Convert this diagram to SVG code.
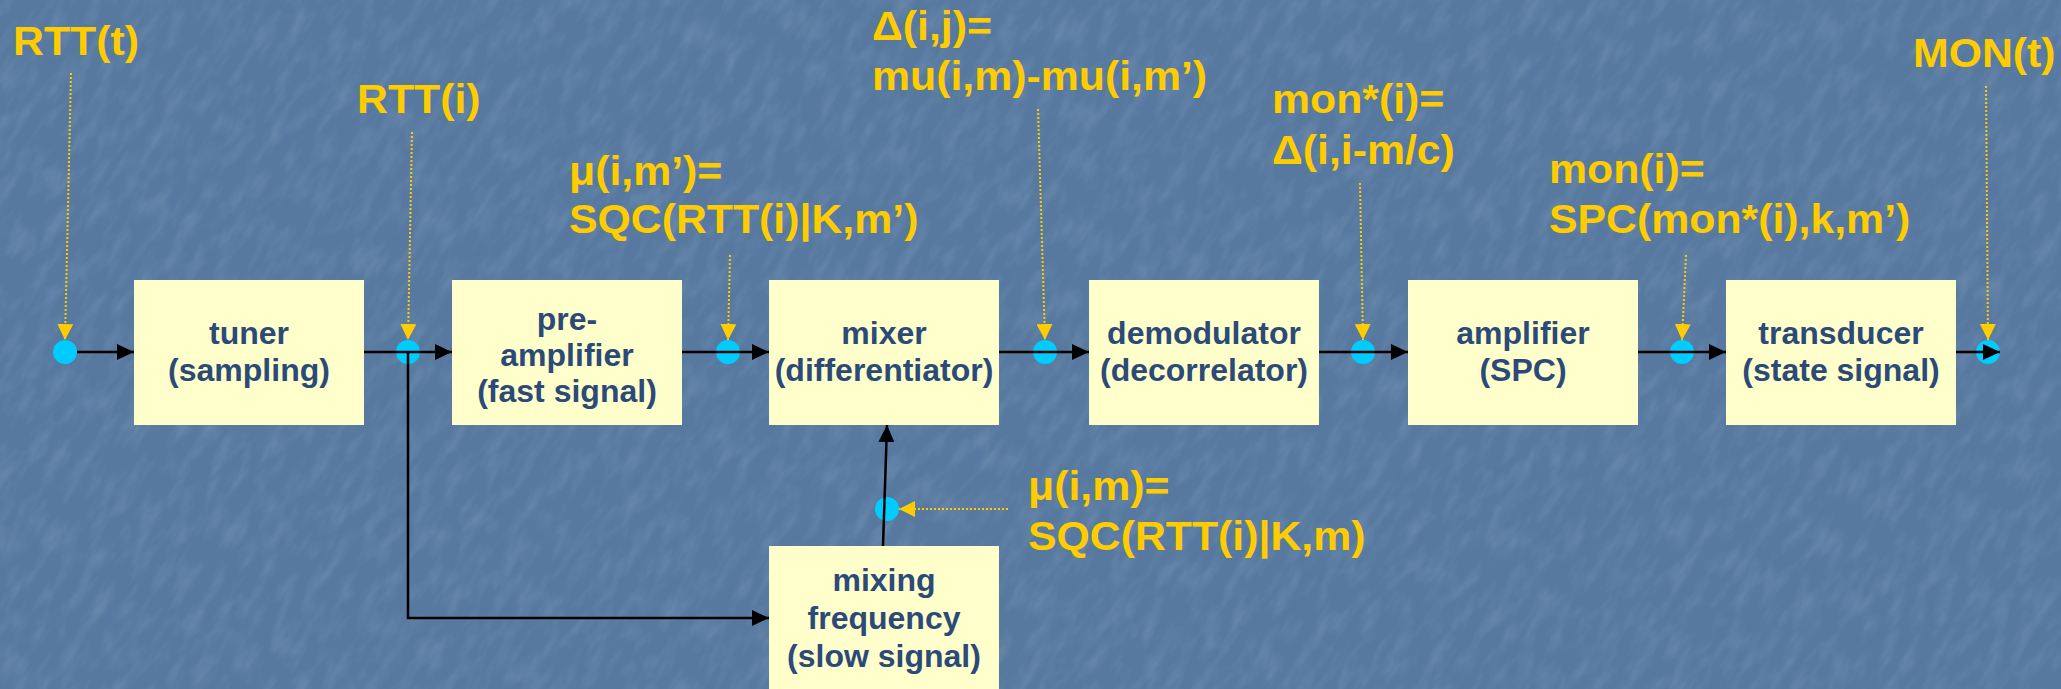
<svg xmlns="http://www.w3.org/2000/svg" width="2061" height="689" viewBox="0 0 2061 689">
<style>
.box{fill:#FFFFCC;}
.bt{font-family:"Liberation Sans",Arial,sans-serif;font-weight:bold;font-size:32px;fill:#2C4A78;text-anchor:middle;}
.lab{font-family:"Liberation Sans",Arial,sans-serif;font-weight:bold;font-size:40px;fill:#FFCC00;}
.wire{stroke:#000;stroke-width:2.5;fill:none;}
.arr{marker-end:url(#ah);}
.dot{stroke:#FFCC00;stroke-width:2;stroke-dasharray:2 2;fill:none;marker-end:url(#yh);}
.jn{fill:#00CCFF;}
</style>
<defs>
<marker id="ah" markerUnits="userSpaceOnUse" markerWidth="18" markerHeight="16" refX="17" refY="8" orient="auto">
<path d="M0,0 L17,8 L0,16 Z" fill="#000"/>
</marker>
<marker id="yh" markerUnits="userSpaceOnUse" markerWidth="17" markerHeight="16" refX="16" refY="8" orient="auto">
<path d="M0,0 L16,8 L0,16 Z" fill="#FFCC00"/>
</marker>
<filter id="tex" x="0" y="0" width="100%" height="100%">
<feTurbulence type="fractalNoise" baseFrequency="0.03 0.08" numOctaves="3" seed="7" result="n"/>
<feColorMatrix in="n" type="matrix" values="0 0 0 0 0.58  0 0 0 0 0.70  0 0 0 0 0.86  0 0 0 1.1 -0.45"/>
</filter>
</defs>
<rect width="2061" height="689" fill="#57799F"/>
<g transform="rotate(-58 1030 344)" opacity="0.25">
<rect x="-600" y="-900" width="3300" height="2500" filter="url(#tex)"/>
</g>

<g id="junctions">
<circle class="jn" cx="65" cy="352" r="12"/>
<circle class="jn" cx="408" cy="352" r="12"/>
<circle class="jn" cx="728" cy="352" r="12"/>
<circle class="jn" cx="1045" cy="352" r="12"/>
<circle class="jn" cx="1363" cy="352" r="12"/>
<circle class="jn" cx="1682" cy="352" r="12"/>
<circle class="jn" cx="1988" cy="352" r="12"/>
<circle class="jn" cx="887" cy="509" r="12"/>
</g>

<g id="node-tuner">
<rect class="box" x="134" y="280" width="230" height="145"/>
<text class="bt" x="249" y="344">tuner</text>
<text class="bt" x="249" y="381">(sampling)</text>
</g>
<g id="node-preamplifier">
<rect class="box" x="452" y="280" width="230" height="145"/>
<text class="bt" x="567" y="330">pre-</text>
<text class="bt" x="567" y="366">amplifier</text>
<text class="bt" x="567" y="402">(fast signal)</text>
</g>
<g id="node-mixer">
<rect class="box" x="769" y="280" width="230" height="145"/>
<text class="bt" x="884" y="344">mixer</text>
<text class="bt" x="884" y="381">(differentiator)</text>
</g>
<g id="node-demodulator">
<rect class="box" x="1089" y="280" width="230" height="145"/>
<text class="bt" x="1204" y="344">demodulator</text>
<text class="bt" x="1204" y="381">(decorrelator)</text>
</g>
<g id="node-amplifier">
<rect class="box" x="1408" y="280" width="230" height="145"/>
<text class="bt" x="1523" y="344">amplifier</text>
<text class="bt" x="1523" y="381">(SPC)</text>
</g>
<g id="node-transducer">
<rect class="box" x="1726" y="280" width="230" height="145"/>
<text class="bt" x="1841" y="344">transducer</text>
<text class="bt" x="1841" y="381">(state signal)</text>
</g>
<g id="node-mixing-frequency">
<rect class="box" x="769" y="546" width="230" height="160"/>
<text class="bt" x="884" y="591">mixing</text>
<text class="bt" x="884" y="629">frequency</text>
<text class="bt" x="884" y="667">(slow signal)</text>
</g>

<g id="connectors">
<line class="wire arr" x1="77" y1="352" x2="134" y2="352"/>
<line class="wire arr" x1="364" y1="352" x2="452" y2="352"/>
<line class="wire arr" x1="682" y1="352" x2="769" y2="352"/>
<line class="wire arr" x1="999" y1="352" x2="1089" y2="352"/>
<line class="wire arr" x1="1319" y1="352" x2="1408" y2="352"/>
<line class="wire arr" x1="1638" y1="352" x2="1726" y2="352"/>
<line class="wire arr" x1="1956" y1="352" x2="2000" y2="352"/>
<polyline class="wire arr" points="408,352 408,618 769,618"/>
<line class="wire arr" x1="883" y1="546" x2="887" y2="425"/>
<line class="dot" x1="71" y1="73" x2="65" y2="340"/>
<line class="dot" x1="412" y1="132" x2="408" y2="340"/>
<line class="dot" x1="730" y1="255" x2="728" y2="340"/>
<line class="dot" x1="1038" y1="109" x2="1045" y2="340"/>
<line class="dot" x1="1360" y1="183" x2="1363" y2="340"/>
<line class="dot" x1="1686" y1="255" x2="1682" y2="340"/>
<line class="dot" x1="1986" y1="86" x2="1988" y2="340"/>
<line class="dot" x1="1008" y1="509" x2="899" y2="509"/>
</g>

<g id="labels">
<text class="lab" transform="translate(13 55) scale(1.07 1)">RTT(t)</text>
<text class="lab" transform="translate(357 113) scale(1.07 1)">RTT(i)</text>
<text class="lab" transform="translate(569 185) scale(1.07 1)">μ(i,m’)=</text>
<text class="lab" transform="translate(569 233) scale(1.07 1)">SQC(RTT(i)|K,m’)</text>
<text class="lab" transform="translate(872 40) scale(1.07 1)">Δ(i,j)=</text>
<text class="lab" transform="translate(872 90) scale(1.07 1)">mu(i,m)-mu(i,m’)</text>
<text class="lab" transform="translate(1272 113) scale(1.07 1)">mon*(i)=</text>
<text class="lab" transform="translate(1272 164) scale(1.07 1)">Δ(i,i-m/c)</text>
<text class="lab" transform="translate(1549 183) scale(1.07 1)">mon(i)=</text>
<text class="lab" transform="translate(1549 233) scale(1.07 1)">SPC(mon*(i),k,m’)</text>
<text class="lab" transform="translate(1913 67) scale(1.07 1)">MON(t)</text>
<text class="lab" transform="translate(1028 500) scale(1.07 1)">μ(i,m)=</text>
<text class="lab" transform="translate(1028 550) scale(1.07 1)">SQC(RTT(i)|K,m)</text>
</g>
</svg>
